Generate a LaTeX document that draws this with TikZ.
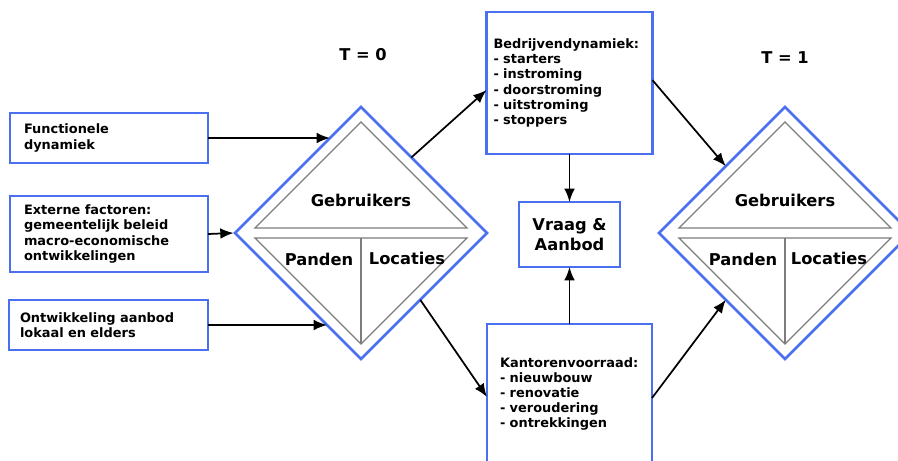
\documentclass[tikz,border=0pt]{standalone}
\usepackage{fontspec}
\setmainfont{DejaVu Sans}
\usetikzlibrary{shapes.geometric,arrows.meta,calc}
\definecolor{boxblue}{RGB}{74,112,240}
\definecolor{innergray}{RGB}{125,125,125}
\def\pxu{0.75pt}
\begin{document}
\begin{tikzpicture}[x=0.75pt,y=-0.75pt,
  every node/.style={font=\bfseries},
  txt/.style={font=\bfseries\fontsize{9.7}{11.4}\selectfont},
  bigtxt/.style={font=\bfseries\fontsize{12.2}{15.5}\selectfont},
  infobox/.style={draw=boxblue,line width=1.9pt,fill=white,rectangle,txt,align=left,inner ysep=0pt,outer sep=0pt},
  dmd/.style={draw=boxblue,line width=1.9pt,diamond,aspect=1,inner sep=0pt,outer sep=0pt,
     minimum width={252*\pxu},minimum height={252*\pxu}},
  tri/.style={draw=innergray,line width=1pt,line join=miter},
  arr/.style={draw=black,line width=1.3pt,-{Latex[length=10pt,width=8pt]}}]
\useasboundingbox (0,0) rectangle (898,460);

% input boxes
\node[infobox,text width={170*\pxu},inner xsep={14*\pxu},minimum height={50*\pxu}] (box1) at (109,138)
  {Functionele\\dynamiek};
\node[infobox,text width={170*\pxu},inner xsep={14*\pxu},minimum height={76*\pxu}] (box2) at (109,234)
  {Externe factoren:\\gemeentelijk beleid\\macro-economische\\ontwikkelingen};
\node[infobox,text width={177*\pxu},inner xsep={11*\pxu},minimum height={50*\pxu}] (box3) at (108.5,325)
  {Ontwikkeling aanbod\\lokaal en elders};

% diamonds at T = 0 and T = 1
\node[dmd] (d1) at (361,233) {};
\node[dmd] (d2) at (785,233) {};
\foreach \d in {d1,d2}{
  \draw[tri] ($(\d.center)+(0,-111)$) -- ($(\d.center)+(-106,-5)$) -- ($(\d.center)+(106,-5)$) -- cycle;
  \draw[tri] ($(\d.center)+(-106,5)$) -- ($(\d.center)+(106,5)$) -- ($(\d.center)+(0,111)$) -- cycle;
  \draw[tri] ($(\d.center)+(0,5)$) -- ($(\d.center)+(0,111)$);
}
\node[bigtxt] (g1) at ($(d1.center)+(0,-33)$) {Gebruikers};
\node[bigtxt] (p1) at ($(d1.center)+(-42,26)$) {Panden};
\node[bigtxt] (l1) at ($(d1.center)+(46,25)$) {Locaties};
\node[bigtxt] (g2) at ($(d2.center)+(0,-33)$) {Gebruikers};
\node[bigtxt] (p2) at ($(d2.center)+(-42,26)$) {Panden};
\node[bigtxt] (l2) at ($(d2.center)+(44,25)$) {Locaties};

\node[bigtxt] (t0) at (363,55) {T = 0};
\node[bigtxt] (t1) at (785,58) {T = 1};

% middle column
\node[infobox,text width={152*\pxu},inner xsep={7*\pxu},minimum height={142*\pxu}] (bedr) at (569.5,83)
  {Bedrijvendynamiek:\\- starters\\- instroming\\- doorstroming\\- uitstroming\\- stoppers};
\node[infobox,text width={139*\pxu},inner xsep={13*\pxu},minimum height={140*\pxu}] (kant) at (569.5,394)
  {Kantorenvoorraad:\\- nieuwbouw\\- renovatie\\- veroudering\\- ontrekkingen};
\node[infobox,bigtxt,align=center,minimum width={101*\pxu},minimum height={65*\pxu},inner xsep=0pt] (vraag) at (569.5,234.5)
  {Vraag \&\\Aanbod};

% connectors
\draw[arr] (box1.east) -- ($(d1.west)!{95/126}!(d1.north)$);
\draw[arr] (box2.east) -- ([xshift=-1pt]d1.west);
\draw[arr] (box3.east) -- ($(d1.west)!{92/126}!(d1.south)$);
\draw[arr] ($(d1.north)!0.40!(d1.east)$) -- ($(bedr.north west)!0.55!(bedr.south west)$);
\draw[arr] ($(d1.east)!0.53!(d1.south)$) -- ($(kant.north west)+(0,73)$);
\draw[arr] (bedr.south) -- (vraag.north);
\draw[arr] (kant.north) -- (vraag.south);
\draw[arr] ($(bedr.north east)!0.48!(bedr.south east)$) -- ($(d2.west)!0.53!(d2.north)$);
\draw[arr] ($(kant.north east)+(0,74)$) -- ($(d2.west)!0.53!(d2.south)$);
\end{tikzpicture}
\end{document}
